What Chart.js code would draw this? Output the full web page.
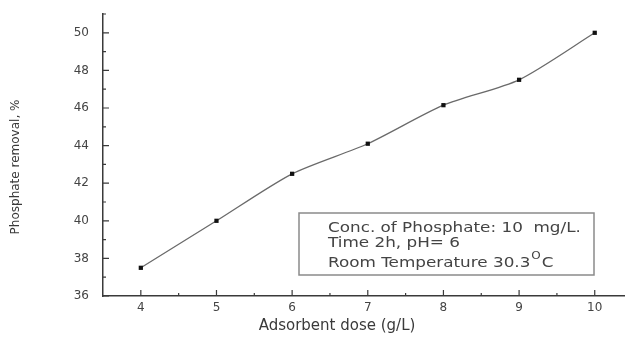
<!DOCTYPE html>
<html>
<head>
<meta charset="utf-8">
<script src="https://cdn.jsdelivr.net/npm/chart.js@4"></script>
<style>
  html, body { margin: 0; padding: 0; background: #fff; }
  canvas { display: block; }
</style>
</head>
<body>
<canvas id="grafico" width="625" height="337"></canvas>
<script>
// dosis de adsorbente (g/L) y % de remoción de fosfato
const dosis = [4, 5, 6, 7, 8, 9, 10];
const remocion = [37.5, 40.0, 42.5, 44.1, 46.15, 47.5, 50.0];
const ticksX = [4, 5, 6, 7, 8, 9, 10];
const ticksY = [36, 38, 40, 42, 44, 46, 48, 50];
const menoresX = [4.5, 5.5, 6.5, 7.5, 8.5, 9.5];
const menoresY = [37, 39, 41, 43, 45, 47, 49, 51];

const fuente = 'DejaVu Sans, Arial, sans-serif';
const gris = '#3a3a3a';

// texto un poco estirado en horizontal
function textoAncho(ctx, txt, x, y, sx) {
  ctx.save();
  ctx.translate(x, y);
  ctx.scale(sx, 1);
  ctx.fillText(txt, 0, 0);
  ctx.restore();
  return ctx.measureText(txt).width * sx;
}

// ticks hacia adentro, titulos de ejes y cuadro de condiciones
const extras = {
  id: 'extras',
  afterDraw(chart) {
    const ctx = chart.ctx;
    const x = chart.scales.x, y = chart.scales.y;
    const a = chart.chartArea;
    ctx.save();
    ctx.strokeStyle = gris;
    ctx.lineWidth = 1.2;
    ctx.beginPath();
    ticksX.forEach(v => { const px = x.getPixelForValue(v); ctx.moveTo(px, a.bottom); ctx.lineTo(px, a.bottom - 6); });
    menoresX.forEach(v => { const px = x.getPixelForValue(v); ctx.moveTo(px, a.bottom); ctx.lineTo(px, a.bottom - 3); });
    ticksY.forEach(v => { const py = y.getPixelForValue(v); ctx.moveTo(a.left, py); ctx.lineTo(a.left + 6, py); });
    menoresY.forEach(v => { const py = y.getPixelForValue(v); ctx.moveTo(a.left, py); ctx.lineTo(a.left + 3, py); });
    ctx.stroke();

    // titulos
    ctx.fillStyle = gris;
    ctx.textAlign = 'center';
    ctx.textBaseline = 'middle';
    ctx.font = '15px ' + fuente;
    ctx.fillText('Adsorbent dose (g/L)', 337, 326);
    ctx.save();
    ctx.translate(16, 167);
    ctx.rotate(-Math.PI / 2);
    ctx.font = '12px ' + fuente;
    ctx.fillText('Phosphate removal, %', 0, 0);
    ctx.restore();

    // cuadro de condiciones
    ctx.strokeStyle = '#8a8a8a';
    ctx.lineWidth = 1.5;
    ctx.strokeRect(299, 213, 295, 62);
    ctx.textAlign = 'left';
    ctx.fillStyle = '#444';
    const sx = 1.2;
    ctx.font = '14px ' + fuente;
    textoAncho(ctx, 'Conc. of Phosphate: 10  mg/L.', 328, 228, sx);
    textoAncho(ctx, 'Time 2h, pH= 6', 328, 243, sx);
    let w = textoAncho(ctx, 'Room Temperature 30.3', 328, 263, sx);
    ctx.font = '10px ' + fuente;
    const wo = textoAncho(ctx, 'O', 328 + w + 1, 256, sx);
    ctx.font = '14px ' + fuente;
    textoAncho(ctx, 'C', 328 + w + wo + 2, 263, sx);
    ctx.restore();
  }
};

new Chart(document.getElementById('grafico'), {
  type: 'line',
  data: {
    datasets: [{
      data: dosis.map((d, i) => ({ x: d, y: remocion[i] })),
      borderColor: '#6a6a6a',
      borderWidth: 1.3,
      tension: 0.25,
      pointStyle: 'rect',
      pointRadius: 3,
      pointBackgroundColor: '#111',
      pointBorderColor: '#111',
      pointBorderWidth: 0,
      fill: false
    }]
  },
  options: {
    responsive: false,
    animation: false,
    layout: { autoPadding: false, padding: { top: 14, left: 0, right: 0, bottom: 0 } },
    plugins: { legend: { display: false }, tooltip: { enabled: false } },
    scales: {
      x: {
        type: 'linear',
        min: 3.5,
        max: 10.4,
        afterFit: s => { s.height = 41; s.paddingRight = 0; s.paddingLeft = 0; },
        afterBuildTicks: s => { s.ticks = ticksX.map(v => ({ value: v })); },
        grid: { display: false, drawTicks: false },
        border: { display: true, color: gris, width: 1.5 },
        ticks: { padding: 5, color: '#444', font: { family: fuente, size: 12 }, maxRotation: 0 }
      },
      y: {
        min: 36,
        max: 51,
        afterFit: s => { s.width = 103; s.paddingTop = 0; s.paddingBottom = 0; },
        afterBuildTicks: s => { s.ticks = ticksY.map(v => ({ value: v })); },
        grid: { display: false, drawTicks: false },
        border: { display: true, color: gris, width: 1.5 },
        ticks: { padding: 14, color: '#444', font: { family: fuente, size: 12 } }
      }
    }
  },
  plugins: [extras]
});
</script>
</body>
</html>
